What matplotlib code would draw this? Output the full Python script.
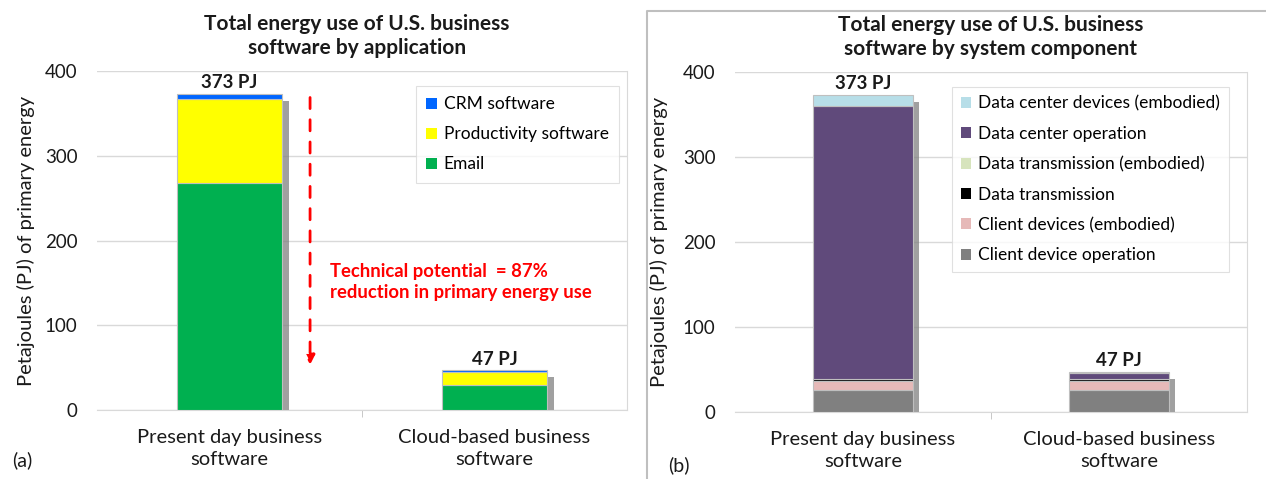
import matplotlib
matplotlib.use("Agg")
import matplotlib.pyplot as plt
import matplotlib.patheffects as pe
from matplotlib.lines import Line2D
import numpy as np

plt.rcParams['font.family'] = ['Lato', 'DejaVu Sans']

categories = ["Present day business\nsoftware", "Cloud-based business\nsoftware"]

# Panel (a): by application
app_labels = ["Email", "Productivity software", "CRM software"]
app_colors = ["#00B050", "#FFFF00", "#0066FF"]
email = [268, 29]
productivity = [99, 16]
crm = [6, 2]
app_series = [email, productivity, crm]

# Panel (b): by system component
comp_labels = ["Client device operation", "Client devices (embodied)", "Data transmission",
               "Data transmission (embodied)", "Data center operation", "Data center devices (embodied)"]
comp_colors = ["#808080", "#E6B9B8", "#000000", "#D7E4BD", "#604A7B", "#B7DEE8"]
client_op = [26, 26]
client_emb = [11, 10.5]
dt_op = [1.5, 2]
dt_emb = [0.5, 0.5]
dc_op = [321, 6.5]
dc_emb = [13, 1.5]
comp_series = [client_op, client_emb, dt_op, dt_emb, dc_op, dc_emb]

totals = [373, 47]
total_labels = ["373 PJ", "47 PJ"]
yticks = [0, 100, 200, 300, 400]

W, H = 1266, 479
fig = plt.figure(figsize=(W / 100, H / 100), dpi=100)

def fx(px):
    return px / W

def fy(py):
    return 1 - py / H

ax1 = fig.add_axes([fx(97), fy(410), fx(627) - fx(97), fy(71) - fy(410)])
ax2 = fig.add_axes([fx(735), fy(412), fx(1247) - fx(735), fy(72) - fy(412)])

def draw(ax, series, colors, labels, width, ylab_x):
    x = np.arange(len(categories))
    # shadow behind each full stack
    sh = ax.bar(x, totals, width, color='none', edgecolor='none', zorder=2)
    for p in sh:
        p.set_path_effects([pe.SimplePatchShadow(offset=(5, -5), shadow_rgbFace='#808080', alpha=0.75)])
    bottom = np.zeros(len(categories))
    handles = []
    for vals, c, lab in zip(series, colors, labels):
        b = ax.bar(x, vals, width, bottom=bottom, color=c, edgecolor='#BFBFBF',
                   linewidth=0.8, label=lab, zorder=3)
        bottom += np.array(vals)
        handles.append(b)
    for xi, t, lab in zip(x, totals, total_labels):
        ax.text(xi, t + 3, lab, ha='center', va='bottom', fontsize=13.5, fontweight='bold', color='#1a1a1a')
    ax.set_xlim(-0.5, 1.5)
    ax.set_ylim(0, 400)
    ax.set_yticks(yticks)
    ax.set_yticklabels([str(v) for v in yticks], fontsize=13.5, color='#1a1a1a')
    ax.yaxis.grid(True, color='#D9D9D9', linewidth=1, zorder=0)
    ax.set_axisbelow(True)
    ax.tick_params(axis='y', length=0, pad=14)
    ax.set_xticks(x)
    ax.set_xticklabels(categories, fontsize=14.5, color='#1a1a1a', linespacing=1.3)
    ax.set_xticks([0.5], minor=True)
    ax.tick_params(axis='x', which='major', length=0, pad=14)
    ax.tick_params(axis='x', which='minor', length=5, color='#BFBFBF')
    for s in ['top', 'left']:
        ax.spines[s].set_visible(False)
    ax.spines['right'].set_color('#D9D9D9')
    ax.spines['bottom'].set_color('#D9D9D9')
    ax.set_ylabel("Petajoules (PJ) of primary energy", fontsize=14.5, color='#1a1a1a')
    ax.yaxis.set_label_coords(ylab_x, 0.5)
    return handles

h1 = draw(ax1, app_series, app_colors, app_labels, 0.395, (35 - 97) / 530)
h2 = draw(ax2, comp_series, comp_colors, comp_labels, 0.387, (668 - 735) / 512)

leg1 = ax1.legend(handles=h1[::-1], labels=app_labels[::-1], loc='upper left',
                  bbox_to_anchor=((416 - 97) / 530, (410 - 86) / 339), fontsize=12.5,
                  frameon=True, fancybox=False, edgecolor='#D9D9D9', handlelength=0.6,
                  handleheight=0.6, handletextpad=0.4, labelspacing=0.8, borderpad=0.6,
                  borderaxespad=0)
leg1.get_frame().set_linewidth(0.8)

leg2 = ax2.legend(handles=h2[::-1], labels=comp_labels[::-1], loc='upper left',
                  bbox_to_anchor=((952 - 735) / 512, (412 - 87) / 340), fontsize=12.5,
                  frameon=True, fancybox=False, edgecolor='#D9D9D9', handlelength=0.6,
                  handleheight=0.6, handletextpad=0.4, labelspacing=0.82, borderpad=0.5,
                  borderaxespad=0)
leg2.get_frame().set_linewidth(0.8)
for l in (leg1, leg2):
    for hd in l.legend_handles:
        hd.set_edgecolor('none')

ax1.set_title("Total energy use of U.S. business\nsoftware by application", fontsize=15,
              fontweight='bold', color='#1a1a1a', pad=12, linespacing=1.25, x=0.49)
ax2.set_title("Total energy use of U.S. business\nsoftware by system component", fontsize=15,
              fontweight='bold', color='#1a1a1a', pad=12, linespacing=1.25)

# red dashed arrow annotation
ax1.annotate("", xy=(0.304, 50), xytext=(0.304, 372),
             arrowprops=dict(arrowstyle='-|>', color='red', linestyle=(0, (4, 4)),
                             linewidth=2, mutation_scale=14), zorder=4)
ax1.text(0.38, 151, "Technical potential  = 87%\nreduction in primary energy use",
         color='red', fontsize=13.3, fontweight='bold', ha='left', va='center', linespacing=1.25)

fig.text(fx(12), fy(460), "(a)", fontsize=14, color='#1a1a1a', va='center')
fig.text(fx(668), fy(465), "(b)", fontsize=14, color='#1a1a1a', va='center')

# frame of panel (b)
fig.add_artist(Line2D([fx(647), fx(647), fx(1266)], [fy(479), fy(11), fy(11)],
                      transform=fig.transFigure, color='#BFBFBF', linewidth=1.5))

fig.savefig("out.png", dpi=100, facecolor='white')
